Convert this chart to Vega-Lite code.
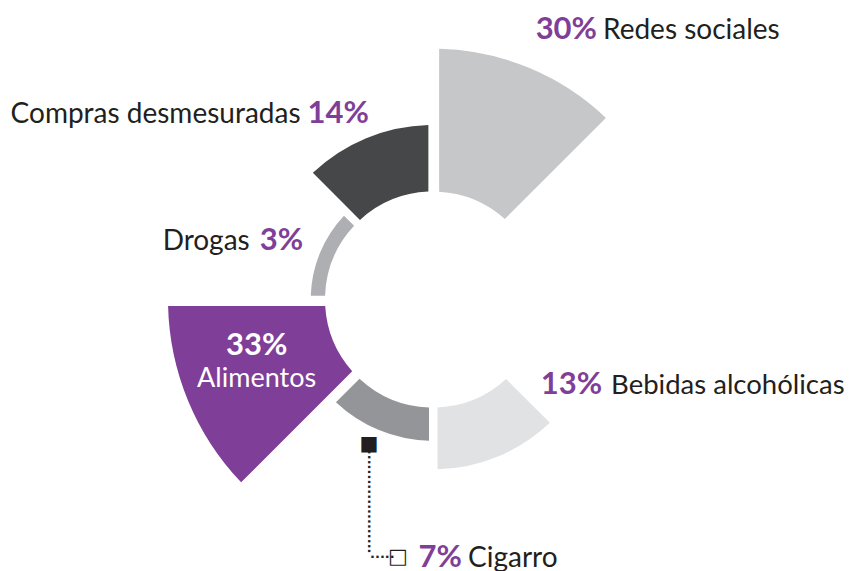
{
  "$schema": "https://vega.github.io/schema/vega-lite/v6.json",
  "width": 838,
  "height": 543,
  "autosize": "none",
  "padding": {"left": 14, "top": 28, "right": 0, "bottom": 0},
  "background": "white",
  "config": {"view": {"stroke": null}, "text": {"font": "Lato"}},
  "data": {
    "values": [
      {"idx": 0, "cat": "Redes sociales", "value": 0.30, "n": 1},
      {"idx": 1, "cat": "", "value": 0, "n": 2},
      {"idx": 2, "cat": "Bebidas alcohólicas", "value": 0.13, "n": 1},
      {"idx": 3, "cat": "Cigarro", "value": 0.07, "n": 1},
      {"idx": 4, "cat": "Alimentos", "value": 0.33, "n": 1},
      {"idx": 5, "cat": "Drogas", "value": 0.03, "n": 1},
      {"idx": 6, "cat": "Compras desmesuradas", "value": 0.14, "n": 1}
    ]
  },
  "transform": [
    {"stack": "n", "groupby": [], "sort": [{"field": "idx", "order": "ascending"}], "as": ["a0", "a1"]}
  ],
  "encoding": {
    "theta": {"field": "a0", "type": "quantitative", "scale": {"domain": [0, 8]}},
    "radius": {"field": "value", "type": "quantitative", "scale": {"type": "linear", "domain": [0, 0.33], "range": [108, 265], "zero": false}}
  },
  "layer": [
    {
      "mark": {"type": "arc", "padAngle": 0.045},
      "encoding": {
        "theta2": {"field": "a1"},
        "radius2": {"datum": 0},
        "color": {"field": "cat", "type": "nominal", "legend": null,
          "scale": {"domain": ["Redes sociales", "", "Bebidas alcohólicas", "Cigarro", "Alimentos", "Drogas", "Compras desmesuradas"],
                    "range": ["#c6c7c9", "#ffffff", "#e1e2e3", "#939598", "#7f3e97", "#adafb2", "#464749"]}}
      }
    },
    {
      "mark": {"type": "text", "align": "right", "baseline": "alphabetic", "dx": 164, "dy": -10, "fontSize": 31, "fontWeight": "bold", "fill": "#7f3f98"},
      "encoding": {"text": {"field": "value", "type": "quantitative", "format": ".0%", "condition": {"test": "datum.cat !== 'Redes sociales'", "value": ""}}}
    },
    {
      "mark": {"type": "text", "align": "left", "baseline": "alphabetic", "dx": 170, "dy": -10, "fontSize": 28, "fill": "#231f20"},
      "encoding": {"text": {"field": "cat", "type": "nominal", "condition": {"test": "datum.cat !== 'Redes sociales'", "value": ""}}}
    },
    {
      "mark": {"type": "text", "align": "right", "baseline": "alphabetic", "dx": -9, "dy": -53, "fontSize": 28, "fill": "#231f20"},
      "encoding": {"text": {"field": "cat", "type": "nominal", "condition": {"test": "datum.cat !== 'Compras desmesuradas'", "value": ""}}}
    },
    {
      "mark": {"type": "text", "align": "left", "baseline": "alphabetic", "dx": -2, "dy": -53, "fontSize": 31, "fontWeight": "bold", "fill": "#7f3f98"},
      "encoding": {"text": {"field": "value", "type": "quantitative", "format": ".0%", "condition": {"test": "datum.cat !== 'Compras desmesuradas'", "value": ""}}}
    },
    {
      "mark": {"type": "text", "align": "right", "baseline": "alphabetic", "dx": -61, "dy": -50, "fontSize": 28, "fill": "#231f20"},
      "encoding": {"text": {"field": "cat", "type": "nominal", "condition": {"test": "datum.cat !== 'Drogas'", "value": ""}}}
    },
    {
      "mark": {"type": "text", "align": "left", "baseline": "alphabetic", "dx": -51, "dy": -50, "fontSize": 31, "fontWeight": "bold", "fill": "#7f3f98"},
      "encoding": {"text": {"field": "value", "type": "quantitative", "format": ".0%", "condition": {"test": "datum.cat !== 'Drogas'", "value": ""}}}
    },
    {
      "mark": {"type": "text", "align": "center", "baseline": "alphabetic", "dx": 11, "dy": -132, "fontSize": 31, "fontWeight": "bold", "fill": "#ffffff"},
      "encoding": {"text": {"field": "value", "type": "quantitative", "format": ".0%", "condition": {"test": "datum.cat !== 'Alimentos'", "value": ""}}}
    },
    {
      "mark": {"type": "text", "align": "center", "baseline": "alphabetic", "dx": 11, "dy": -100, "fontSize": 27, "fill": "#ffffff"},
      "encoding": {"text": {"field": "cat", "type": "nominal", "condition": {"test": "datum.cat !== 'Alimentos'", "value": ""}}}
    },
    {
      "mark": {"type": "text", "align": "right", "baseline": "alphabetic", "dx": 49, "dy": -26, "fontSize": 31, "fontWeight": "bold", "fill": "#7f3f98"},
      "encoding": {"text": {"field": "value", "type": "quantitative", "format": ".0%", "condition": {"test": "datum.cat !== 'Bebidas alcohólicas'", "value": ""}}}
    },
    {
      "mark": {"type": "text", "align": "left", "baseline": "alphabetic", "dx": 58, "dy": -26, "fontSize": 27.5, "fill": "#231f20"},
      "encoding": {"text": {"field": "cat", "type": "nominal", "condition": {"test": "datum.cat !== 'Bebidas alcohólicas'", "value": ""}}}
    },
    {
      "mark": {"type": "text", "align": "right", "baseline": "alphabetic", "dx": 29, "dy": 126, "fontSize": 31, "fontWeight": "bold", "fill": "#7f3f98"},
      "encoding": {"text": {"field": "value", "type": "quantitative", "format": ".0%", "condition": {"test": "datum.cat !== 'Cigarro'", "value": ""}}}
    },
    {
      "mark": {"type": "text", "align": "left", "baseline": "alphabetic", "dx": 35, "dy": 126, "fontSize": 28, "fill": "#231f20"},
      "encoding": {"text": {"field": "cat", "type": "nominal", "condition": {"test": "datum.cat !== 'Cigarro'", "value": ""}}}
    },
    {
      "mark": {"type": "text", "align": "center", "baseline": "middle", "dx": -64, "dy": 3, "font": "DejaVu Sans", "fontSize": 20, "fill": "#231f20"},
      "encoding": {"text": {"condition": {"test": "datum.cat === 'Cigarro'", "value": "■"}, "value": ""}}
    },
    {
      "mark": {"type": "text", "align": "left", "baseline": "middle", "angle": 90, "dx": 9, "dy": 64, "font": "DejaVu Sans", "fontSize": 13, "fontWeight": "bold", "fill": "#231f20"},
      "encoding": {"text": {"condition": {"test": "datum.cat === 'Cigarro'", "value": "·····················"}, "value": ""}}
    },
    {
      "mark": {"type": "text", "align": "left", "baseline": "middle", "dx": -63, "dy": 116, "font": "DejaVu Sans", "fontSize": 13, "fontWeight": "bold", "fill": "#231f20"},
      "encoding": {"text": {"condition": {"test": "datum.cat === 'Cigarro'", "value": "·····"}, "value": ""}}
    },
    {
      "mark": {"type": "text", "align": "center", "baseline": "middle", "dx": -35, "dy": 116, "font": "DejaVu Sans", "fontSize": 21, "fontWeight": "bold", "fill": "#231f20"},
      "encoding": {"text": {"condition": {"test": "datum.cat === 'Cigarro'", "value": "□"}, "value": ""}}
    }
  ]
}
